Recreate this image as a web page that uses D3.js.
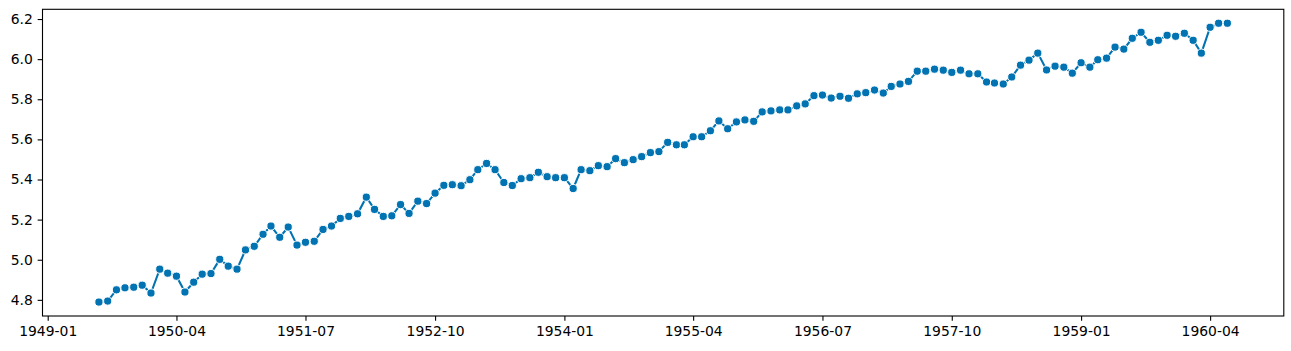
<!DOCTYPE html>
<html>
<head>
<meta charset="utf-8">
<script src="https://cdn.jsdelivr.net/npm/d3@7"></script>
<style>
  html, body { margin: 0; padding: 0; background: #fff; }
  svg { display: block; }
  text { font-family: "DejaVu Sans", sans-serif; font-size: 13.9px; fill: #000; }
</style>
</head>
<body>
<svg id="chart" width="1291" height="351"></svg>
<script>
// ---- data ----
const startMonth = "1949-07";   // first observation
const values = [
  4.789, 4.794, 4.850, 4.860, 4.863, 4.873, 4.834, 4.953, 4.933, 4.918,
  4.839, 4.888, 4.928, 4.931, 5.002, 4.968, 4.953, 5.049, 5.067, 5.127,
  5.168, 5.112, 5.163, 5.073, 5.087, 5.092, 5.151, 5.168, 5.206, 5.216,
  5.229, 5.312, 5.251, 5.216, 5.219, 5.275, 5.231, 5.292, 5.280, 5.332,
  5.371, 5.374, 5.369, 5.399, 5.449, 5.480, 5.449, 5.385, 5.370, 5.404,
  5.409, 5.436, 5.414, 5.409, 5.409, 5.355, 5.449, 5.444, 5.469, 5.464,
  5.504, 5.484, 5.499, 5.514, 5.534, 5.539, 5.585, 5.573, 5.573, 5.613,
  5.613, 5.643, 5.692, 5.653, 5.687, 5.697, 5.690, 5.737, 5.742, 5.747,
  5.747, 5.767, 5.777, 5.818, 5.821, 5.806, 5.815, 5.805, 5.827, 5.833,
  5.846, 5.831, 5.864, 5.876, 5.889, 5.940, 5.940, 5.950, 5.945, 5.934,
  5.945, 5.927, 5.927, 5.886, 5.881, 5.876, 5.911, 5.970, 5.995, 6.030,
  5.946, 5.965, 5.960, 5.930, 5.982, 5.960, 5.997, 6.005, 6.060, 6.050,
  6.104, 6.134, 6.084, 6.094, 6.119, 6.114, 6.129, 6.094, 6.030, 6.159,
  6.179, 6.179
];
const xTickLabels = ["1949-01","1950-04","1951-07","1952-10","1954-01","1955-04","1956-07","1957-10","1959-01","1960-04"];
const yTickLabels = ["4.8","5.0","5.2","5.4","5.6","5.8","6.0","6.2"];

// ---- build ----
const parseMonth = d3.timeParse("%Y-%m");
const fmtMonth = d3.timeFormat("%Y-%m");
const start = parseMonth(startMonth);
const data = values.map((v, i) => ({ date: d3.timeMonth.offset(start, i), value: v }));

const W = 1291, H = 351;
const margin = { left: 42.5, right: 7.2, top: 9.3, bottom: 35 };
const iw = W - margin.left - margin.right;
const ih = H - margin.top - margin.bottom;

const svg = d3.select("#chart");
const g = svg.append("g").attr("transform", `translate(${margin.left},${margin.top})`);

const xExt = d3.extent(data, d => +d.date);
const xPad = (xExt[1] - xExt[0]) * 0.05;
const x = d3.scaleTime().domain([new Date(xExt[0] - xPad), new Date(xExt[1] + xPad)]).range([0, iw]);

const yExt = d3.extent(data, d => d.value);
const yPad = (yExt[1] - yExt[0]) * 0.05;
const y = d3.scaleLinear().domain([yExt[0] - yPad, yExt[1] + yPad]).range([ih, 0]);

const tickLen = 4.86, tickPad = 4.86;

// x axis
const xAxis = d3.axisBottom(x)
  .tickValues(xTickLabels.map(parseMonth))
  .tickFormat(fmtMonth)
  .tickSize(tickLen).tickPadding(tickPad);
const gx = g.append("g").attr("transform", `translate(0,${ih})`).call(xAxis);
gx.select(".domain").remove();
gx.selectAll(".tick line").attr("stroke", "#000").attr("stroke-width", 1.1);
gx.selectAll(".tick text").attr("font-size", null).attr("font-family", null);

// y axis
const yAxis = d3.axisLeft(y)
  .tickValues(yTickLabels.map(Number))
  .tickFormat((d, i) => yTickLabels[i])
  .tickSize(tickLen).tickPadding(tickPad);
const gy = g.append("g").call(yAxis);
gy.select(".domain").remove();
gy.selectAll(".tick line").attr("stroke", "#000").attr("stroke-width", 1.1);
gy.selectAll(".tick text").attr("font-size", null).attr("font-family", null);
svg.selectAll(".tick text").attr("fill", "#000");
d3.selectAll("g.tick").each(function(){ d3.select(this.parentNode).attr("font-size", null).attr("font-family", null); });

// frame
g.append("rect")
  .attr("x", 0).attr("y", 0).attr("width", iw).attr("height", ih)
  .attr("fill", "none").attr("stroke", "#000").attr("stroke-width", 1.1);

// line
const color = "#0173b2";
g.append("path")
  .datum(data)
  .attr("fill", "none")
  .attr("stroke", color)
  .attr("stroke-width", 2.08)
  .attr("d", d3.line().x(d => x(d.date)).y(d => y(d.value)));

// markers
g.append("g").selectAll("circle")
  .data(data).join("circle")
  .attr("cx", d => x(d.date))
  .attr("cy", d => y(d.value))
  .attr("r", 4.1)
  .attr("fill", color)
  .attr("stroke", "#fff")
  .attr("stroke-width", 1);
</script>
</body>
</html>
